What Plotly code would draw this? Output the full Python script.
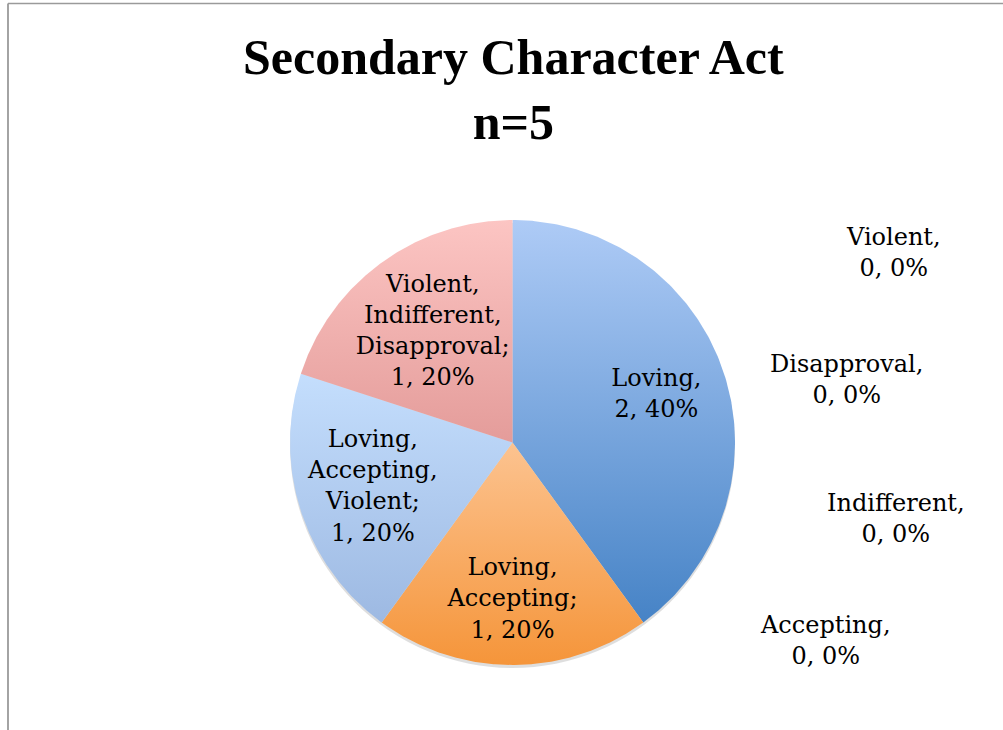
import numpy as np
import plotly.graph_objects as go

# ---- data -------------------------------------------------------------
categories = [
    "Loving",
    "Loving, Accepting",
    "Loving, Accepting, Violent",
    "Violent, Indifferent, Disapproval",
    "Accepting",
    "Indifferent",
    "Disapproval",
    "Violent",
]
counts = [2, 1, 1, 1, 0, 0, 0, 0]

# gradient colours per slice: (bottom, top)
slice_colors = [
    ("#4683c6", "#aecbf6"),
    ("#f5953a", "#fcc390"),
    ("#9db9e2", "#c4defd"),
    ("#e49c9a", "#fcc5c3"),
]
# radial placement of the in-slice labels (fraction of the radius)
label_radius = [0.68, 0.71, 0.66, 0.61]

title_text = "Secondary Character Act<br>n=5"

# ---- page geometry ----------------------------------------------------
W, H = 1003, 730
CX, CY, R = 512.5, 442.5, 222.5   # pie centre / radius in pixels

x_range = [-CX / R, (W - CX) / R]
y_range = [-(H - CY) / R, CY / R]

FONT = "DejaVu Serif"
LABEL_SIZE = 24

total = sum(counts)
fig = go.Figure()

# soft drop shadow under the pie
fig.add_shape(type="circle", xref="x", yref="y",
              x0=-1.0, x1=1.0, y0=-1.0 - 3 / R, y1=1.0 - 3 / R,
              fillcolor="rgba(0,0,0,0.13)", line=dict(width=0), layer="below")


def label_text(name, value):
    pct = round(100 * value / total)
    parts = name.split(", ")
    if len(parts) == 1:
        return f"{name},<br>{value}, {pct}%"
    return ",<br>".join(parts) + f";<br>{value}, {pct}%"


# slices drawn clockwise from 12 o'clock
cum = 0.0
lx, ly, ltext = [], [], []
for i, (name, v) in enumerate(zip(categories, counts)):
    if v == 0:
        continue
    a0 = np.pi / 2 - 2 * np.pi * cum / total
    a1 = np.pi / 2 - 2 * np.pi * (cum + v) / total
    t = np.linspace(a0, a1, 200)
    xs = np.concatenate([[0], np.cos(t), [0]])
    ys = np.concatenate([[0], np.sin(t), [0]])
    bottom, top = slice_colors[i]
    fig.add_trace(go.Scatter(
        x=xs, y=ys, mode="lines", fill="toself",
        line=dict(width=0),
        fillgradient=dict(type="vertical",
                          colorscale=[[0, bottom], [1, top]]),
        hoverinfo="skip", showlegend=False,
    ))
    am = (a0 + a1) / 2
    lx.append(label_radius[i] * np.cos(am))
    ly.append(label_radius[i] * np.sin(am))
    ltext.append(label_text(name, v))
    cum += v

fig.add_trace(go.Scatter(
    x=lx, y=ly, mode="text", text=ltext,
    textposition="middle center",
    textfont=dict(family=FONT, size=LABEL_SIZE, color="#000000"),
    hoverinfo="skip", showlegend=False,
))

# labels of the empty categories, set to the right of the pie
zero_label_pos = {
    "Violent": (893, 252),
    "Disapproval": (846, 379),
    "Indifferent": (896, 518),
    "Accepting": (825, 640),
}
for name, v in zip(categories, counts):
    if v != 0:
        continue
    px, py = zero_label_pos[name]
    fig.add_annotation(
        x=px / W, y=1 - py / H, xref="paper", yref="paper",
        text=label_text(name, v), showarrow=False,
        xanchor="center", yanchor="middle", align="center",
        font=dict(family=FONT, size=LABEL_SIZE, color="#000000"),
    )

# title
fig.add_annotation(
    x=513 / W, y=1 - 89 / H, xref="paper", yref="paper",
    text=f"<b>{title_text}</b>", showarrow=False,
    xanchor="center", yanchor="middle", align="center",
    font=dict(family="Liberation Serif", size=50, color="#000000"),
)

# chart frame (top and left edges visible)
fig.add_shape(type="line", xref="paper", yref="paper",
              x0=8 / W, x1=1.01, y0=1 - 3.5 / H, y1=1 - 3.5 / H,
              line=dict(color="#9a9a9a", width=1.5))
fig.add_shape(type="line", xref="paper", yref="paper",
              x0=8 / W, x1=8 / W, y0=1 - 3.5 / H, y1=-0.01,
              line=dict(color="#9a9a9a", width=1.8))

fig.update_layout(
    width=W, height=H,
    margin=dict(l=0, r=0, t=0, b=0),
    paper_bgcolor="white", plot_bgcolor="white",
    xaxis=dict(range=x_range, visible=False, fixedrange=True),
    yaxis=dict(range=y_range, visible=False, fixedrange=True),
    showlegend=False,
)

fig.write_html("out.html")
